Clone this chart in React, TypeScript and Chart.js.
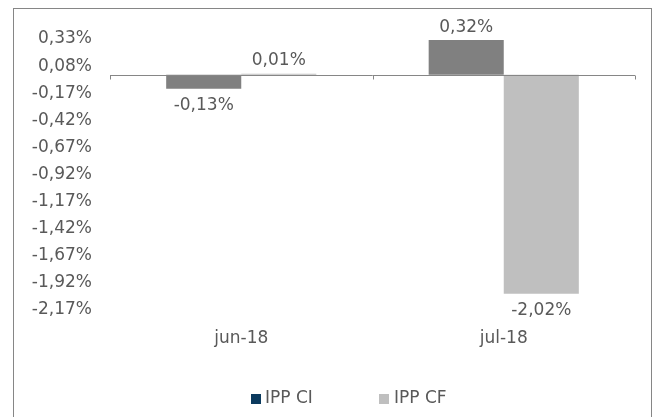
import React, { useEffect, useRef } from "react";
import { Chart, registerables } from "chart.js";

Chart.register(...registerables);

const categories = ["jun-18", "jul-18"];
const seriesNames = ["IPP CI", "IPP CF"];
const ippCI = [-0.13, 0.32];
const ippCF = [0.01, -2.02];
const yTicks = [0.33, 0.08, -0.17, -0.42, -0.67, -0.92, -1.17, -1.42, -1.67, -1.92, -2.17];

const barColors = ["#808080", "#bfbfbf"];
const legendColors = ["#0b3a5e", "#bfbfbf"];
const textColor = "#595959";
const axisColor = "#868686";
const FONT_FAMILY = "'DejaVu Sans', sans-serif";
const FONT_SIZE = 17;

const fmt = (v: number) => v.toFixed(2).replace(".", ",") + "%";

const decorPlugin = {
  id: "decor",
  beforeDraw(chart: any) {
    const ctx = chart.ctx;
    ctx.save();
    ctx.strokeStyle = axisColor;
    ctx.lineWidth = 1;
    ctx.strokeRect(13.5, 8.5, 638, 430);
    ctx.restore();
  },
  afterDatasetsDraw(chart: any) {
    const ctx = chart.ctx;
    const area = chart.chartArea;
    const yScale = chart.scales.y;
    const y0 = Math.round(yScale.getPixelForValue(0)) + 0.5;
    ctx.save();
    // zero axis line
    ctx.strokeStyle = axisColor;
    ctx.lineWidth = 1;
    ctx.beginPath();
    ctx.moveTo(area.left, y0);
    ctx.lineTo(area.right, y0);
    const n = categories.length;
    const step = (area.right - area.left) / n;
    for (let i = 0; i <= n; i++) {
      const x = Math.round(area.left + step * i) + 0.5;
      ctx.moveTo(x, y0);
      ctx.lineTo(x, y0 + 4);
    }
    ctx.stroke();

    // data labels
    ctx.fillStyle = textColor;
    ctx.font = `${FONT_SIZE}px ${FONT_FAMILY}`;
    ctx.textAlign = "center";
    ctx.textBaseline = "middle";
    chart.data.datasets.forEach((ds: any, di: number) => {
      const meta = chart.getDatasetMeta(di);
      meta.data.forEach((bar: any, i: number) => {
        const v = ds.data[i];
        const y = v >= 0 ? bar.y - 13 : bar.y + 17;
        ctx.fillText(fmt(v), bar.x, y);
      });
    });

    // legend
    const legendY = 399;
    const items = [
      { sx: 251, tx: 265 },
      { sx: 379, tx: 394 },
    ];
    ctx.textAlign = "left";
    seriesNames.forEach((name, i) => {
      ctx.fillStyle = legendColors[i];
      ctx.fillRect(items[i].sx, legendY - 5, 10, 10);
      ctx.fillStyle = textColor;
      ctx.fillText(name, items[i].tx, legendY);
    });
    ctx.restore();
  },
};

export default function App() {
  const ref = useRef<HTMLCanvasElement | null>(null);
  useEffect(() => {
    if (!ref.current) return;
    const chart = new Chart(ref.current, {
      type: "bar",
      data: {
        labels: categories,
        datasets: [
          {
            label: seriesNames[0],
            data: ippCI,
            backgroundColor: barColors[0],
            categoryPercentage: 0.572,
            barPercentage: 1,
          },
          {
            label: seriesNames[1],
            data: ippCF,
            backgroundColor: barColors[1],
            categoryPercentage: 0.572,
            barPercentage: 1,
          },
        ],
      },
      options: {
        animation: false,
        responsive: true,
        maintainAspectRatio: false,
        layout: { padding: { top: 39, right: 21, left: 0, bottom: 0 } },
        plugins: {
          legend: { display: false },
          tooltip: { enabled: false },
        },
        scales: {
          x: {
            grid: { display: false, drawTicks: false },
            border: { display: false },
            ticks: {
              color: textColor,
              font: { family: FONT_FAMILY, size: FONT_SIZE },
              padding: 18,
              maxRotation: 0,
            },
            afterFit: (s: any) => {
              s.height = 107;
            },
          },
          y: {
            min: -2.17,
            max: 0.33,
            grid: { display: false, drawTicks: false },
            border: { display: false },
            ticks: {
              color: textColor,
              font: { family: FONT_FAMILY, size: FONT_SIZE },
              padding: 18,
              callback: (v: any) => fmt(Number(v)),
            },
            afterBuildTicks: (s: any) => {
              s.ticks = yTicks.map((v) => ({ value: v }));
            },
            afterFit: (s: any) => {
              s.width = 110;
            },
          },
        },
      },
      plugins: [decorPlugin],
    });
    return () => chart.destroy();
  }, []);
  return (
    <div style={{ position: "fixed", left: 0, top: 0, width: 656, height: 417, background: "#fff" }}>
      <canvas ref={ref} />
    </div>
  );
}
